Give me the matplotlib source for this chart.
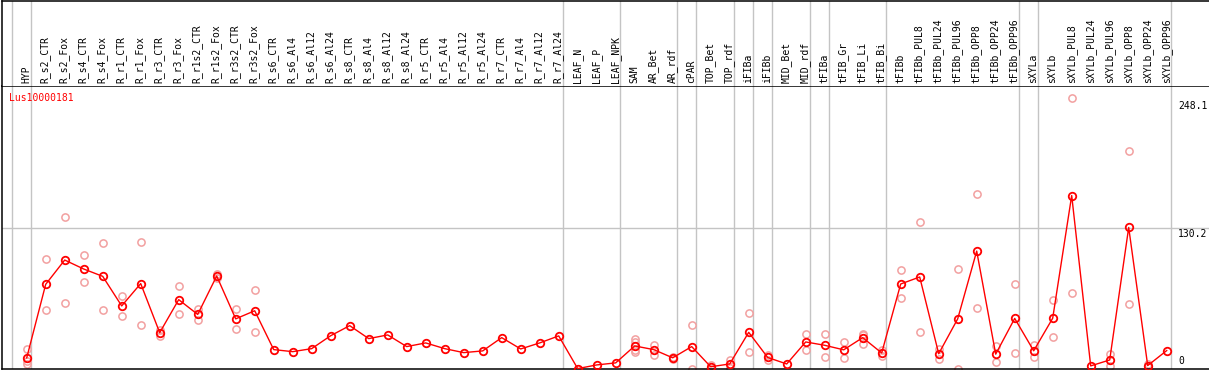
import matplotlib
matplotlib.use("Agg")
import matplotlib.pyplot as plt
import matplotlib.transforms as mtransforms

# ---------------- data ----------------
gene = "Lus10000181"

samples = [
    "HYP",
    "R_s2_CTR", "R_s2_Fox", "R_s4_CTR", "R_s4_Fox", "R_r1_CTR", "R_r1_Fox",
    "R_r3_CTR", "R_r3_Fox", "R_r1s2_CTR", "R_r1s2_Fox", "R_r3s2_CTR", "R_r3s2_Fox",
    "R_s6_CTR", "R_s6_Al4", "R_s6_Al12", "R_s6_Al24",
    "R_s8_CTR", "R_s8_Al4", "R_s8_Al12", "R_s8_Al24",
    "R_r5_CTR", "R_r5_Al4", "R_r5_Al12", "R_r5_Al24",
    "R_r7_CTR", "R_r7_Al4", "R_r7_Al12", "R_r7_Al24",
    "LEAF_N", "LEAF_P", "LEAF_NPK",
    "SAM", "AR_Bet", "AR_rdf", "cPAR", "TOP_Bet", "TOP_rdf",
    "iFIBa", "iFIBb", "MID_Bet", "MID_rdf",
    "tFIBa", "tFIB_Gr", "tFIB_Li", "tFIB_Bi",
    "tFIBb", "tFIBb_PUL8", "tFIBb_PUL24", "tFIBb_PUL96",
    "tFIBb_OPP8", "tFIBb_OPP24", "tFIBb_OPP96",
    "sXYLa", "sXYLb", "sXYLb_PUL8", "sXYLb_PUL24", "sXYLb_PUL96",
    "sXYLb_OPP8", "sXYLb_OPP24", "sXYLb_OPP96",
]

means = [
    9.9,
    78.1, 100.6, 92.3, 85.5, 58.1, 78.8,
    33.3, 63.9, 50.2, 85.8, 46.1, 53.6,
    17.6, 15.7, 18.5, 30.5,
    39.8, 27.8, 31.2, 20.4,
    23.8, 18.5, 14.8, 16.4,
    28.7, 18.2, 23.8, 30.3,
    0.0, 3.4, 5.3,
    21.0, 17.6, 10.0, 20.4, 1.7, 4.3,
    33.6, 10.3, 4.3, 24.7,
    21.6, 17.4, 28.7, 14.5,
    78.4, 84.9, 13.8, 46.1,
    108.9, 13.4, 46.5,
    16.5, 46.7, 160.4, 2.5, 8.0,
    130.8, 2.8, 16.7,
]

replicates = [
    [18.2, 7.0, 4.5],
    [101.5, 54.6], [140.4, 60.8], [105.5, 80.2], [116.3, 54.6], [67.3, 48.8], [117.2, 40.4],
    [36.1, 30.5], [76.8, 50.9], [55.2, 45.3], [87.6, 83.9], [55.5, 36.7], [73.1, 34.0],
    [], [], [], [],
    [], [], [], [],
    [], [], [], [],
    [], [], [], [],
    [], [], [],
    [27.5, 24.7, 16.9, 15.1], [22.2, 13.0], [11.0, 9.0], [40.7, 0.0], [3.5, 0.0], [8.3, 0.3],
    [51.5, 15.7], [13.0, 7.7], [], [32.1, 17.3],
    [32.1, 11.1], [24.7, 10.2], [32.5, 31.0, 22.5], [17.6, 11.4],
    [91.3, 65.4], [135.8, 34.0], [18.5, 9.0], [92.3, 0.0],
    [161.7, 56.2], [20.6, 6.2], [78.4, 14.5],
    [22.0, 11.0], [63.9, 29.6], [250.5, 70.3], [], [13.9, 2.1],
    [201.7, 59.9], [4.0, 1.5], [],
]

# indices of the last sample in each block (vertical separators are drawn after them)
group_ends = [-1, 0, 28, 31, 34, 35, 37, 38, 39, 41, 42, 45, 52, 53, 60]

y_labels = ["0", "130.2", "248.1"]
y_label_values = [0.0, 130.2, 248.1]
grid_values = [130.2]

# ---------------- layout ----------------
W, H = 1209, 370
fig = plt.figure(figsize=(W / 100, H / 100), dpi=100)
fig.patch.set_facecolor("white")


def px_axes(x0, y0, x1, y1):
    return fig.add_axes([x0 / W, 1 - y1 / H, (x1 - x0) / W, (y1 - y0) / H])


step = 19.0       # pixel distance between samples
x_first = 26.7    # pixel x of first sample
xlim = ((1.5 - x_first) / step, (W - x_first) / step)

px_per_unit = 1.0806
y_zero_px = 369.0
top_px = 85.5
bottom_px = 369.0
ylim = ((y_zero_px - bottom_px - 0.4) / px_per_unit, (y_zero_px - top_px) / px_per_unit)

FONT = "DejaVu Sans Mono"
FS = 7
GRID = "#c4c4c4"
RED = "#ff0000"
PINK = "#f2a0a0"

ax = px_axes(1.5, top_px, W, bottom_px)
hdr = px_axes(1.5, 0.5, W, top_px)

for a in (ax, hdr):
    a.set_xlim(*xlim)
    a.set_xticks([])
    a.set_yticks([])
    a.spines["right"].set_visible(False)
    for s in ("left", "top", "bottom"):
        a.spines[s].set_linewidth(1.1)
        a.spines[s].set_color("black")
    a.set_facecolor("white")
    sep = [g + 4.0 / step for g in group_ends]
    for xs in sep:
        a.axvline(xs, color=GRID, lw=1.0, zorder=0)

hdr.set_ylim(0, 1)
hdr.spines["bottom"].set_visible(False)

ax.set_ylim(*ylim)
for gv in grid_values:
    ax.axhline(gv, color=GRID, lw=1.0, zorder=0)

xs = list(range(len(samples)))

# sample labels
for i, name in enumerate(samples):
    hdr.text(i - 0.03, 2.5 / (top_px - 0.5), name, rotation=90, ha="center", va="bottom",
             fontsize=FS, family=FONT, color="black")

# replicate points
rx, ry = [], []
for i, reps in enumerate(replicates):
    for r in reps:
        rx.append(i)
        ry.append(r)
ax.plot(rx, ry, ls="none", marker="o", ms=5.2, mfc="none", mec=PINK, mew=1.1, zorder=2)

# mean line
ax.plot(xs, means, color=RED, lw=1.0, marker="o", ms=5.4, mfc="none", mec=RED, mew=1.3, zorder=3)

# gene title
ax.text(8.0 / (W - 1.5), 1 - 12.0 / (bottom_px - top_px), gene, transform=ax.transAxes,
        ha="left", va="center", fontsize=FS, family=FONT, color=RED)

# value labels on the right
trans = mtransforms.blended_transform_factory(ax.transData, ax.transData)
lab_x = len(samples) - 1 + 0.6
for lab, v in zip(y_labels, y_label_values):
    if v == 0:
        ax.text(lab_x, v + 2.3, lab, ha="left", va="bottom", fontsize=FS, family=FONT,
                color="black", zorder=5)
    else:
        ax.text(lab_x, v - 0.5, lab, ha="left", va="top", fontsize=FS, family=FONT,
                color="black", zorder=5)

fig.savefig("out.png", dpi=100, facecolor="white")
